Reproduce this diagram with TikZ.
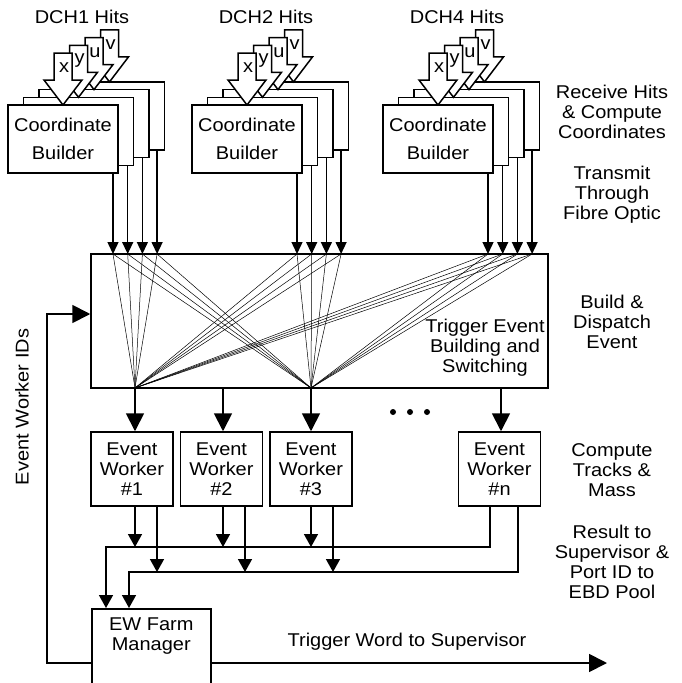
\documentclass[tikz,border=0pt]{standalone}
\usepackage{fontspec}
\setmainfont{Liberation Sans}[FakeStretch=1.08]
\usetikzlibrary{arrows.meta, positioning, calc}

\begin{document}
\begin{tikzpicture}[
  x=1pt, y=-1pt,
  font=\fontsize{18.5}{20}\selectfont,
  cbbox/.style={draw, fill=white, line width=1.5pt, minimum width=110pt, minimum height=68pt, inner sep=0pt},
  ewbox/.style={draw, line width=1.5pt, minimum width=82pt, minimum height=74pt, align=center, inner sep=0pt},
  hit/.style={draw, fill=white, line width=1.5pt, line join=miter},
  note/.style={align=center},
  feed/.style={line width=1.4pt, -{Triangle[width=11pt,length=12pt]}},
  fan/.style={line width=0.5pt},
  main/.style={line width=1.8pt, -{Triangle[width=18pt,length=18pt]}},
  bus/.style={line width=1.5pt, -{Triangle[width=14pt,length=13pt]}}
]
  \useasboundingbox (0,0) rectangle (681,683);

  \node[draw, line width=1.5pt, minimum width=457pt, minimum height=134pt] (sw) at (319.5,321) {};
  \node[note] (swtext) at (485,348) {Trigger Event\\Building and\\Switching};

  \foreach \g/\gx/\dch in {1/0/DCH1, 2/184/DCH2, 3/375/DCH4} {
    \node (hits\g) at (\gx+82,17) {\dch\ Hits};
    \foreach \k/\v in {3/v, 2/u, 1/y, 0/x} {
      \pgfmathsetmacro{\bx}{\gx+63+15.5*\k}
      \pgfmathsetmacro{\by}{105-7.7*\k}
      \node[cbbox] (cb\g\k) at (\bx,\by+34) {};
      \draw[hit] (\bx,\by) -- ++(-19,-25) -- ++(10,0) -- ++(0,-27) -- ++(18,0) -- ++(0,27) -- ++(10,0) -- cycle;
      \node (lab\g\k) at (\bx+1,\by-37) {\v};
    }
    \node[note] (cbtext\g) at (cb\g0) {Coordinate\\[8pt]Builder};
    \foreach \k in {0,...,3} {
      \pgfmathsetmacro{\ox}{\gx+113+14.7*\k}
      \coordinate (in\g\k) at (\ox,254);
      \draw[feed] (cb\g\k.south -| in\g\k) -- (in\g\k);
    }
  }

  \coordinate (f1) at (135,388);
  \coordinate (f2) at (223,388);
  \coordinate (f3) at (311,388);
  \coordinate (fn) at (501,388);
  \foreach \g in {1,2,3} {
    \foreach \k in {0,...,3} {
      \draw[fan] (in\g\k) -- (f1);
      \draw[fan] (in\g\k) -- (f3);
    }
  }

  \node[ewbox] (ew1) at (132,469) {Event\\Worker\\\#1};
  \node[ewbox, right=6pt of ew1] (ew2) {Event\\Worker\\\#2};
  \node[ewbox, right=6pt of ew2] (ew3) {Event\\Worker\\\#3};
  \node[ewbox] (ewn) at (499.5,469) {Event\\Worker\\\#n};
  \foreach \i/\dx in {1/393, 2/410, 3/427}
    \node[circle, fill, inner sep=0pt, minimum size=6pt] (dot\i) at (\dx,412) {};

  \draw[main] (f1) -- (f1 |- ew1.north);
  \draw[main] (f2) -- (f2 |- ew2.north);
  \draw[main] (f3) -- (f3 |- ew3.north);
  \draw[main] (fn) -- (fn |- ewn.north);

  \node[draw, line width=1.5pt, minimum width=119pt, minimum height=100pt, anchor=north west, inner sep=0pt] (fm) at (91,608) {};
  \node[note, below=6pt of fm.north] (fmtext) {EW Farm\\Manager};

  \coordinate (b1w) at (106,547);
  \coordinate (b2w) at (129,572);
  \foreach \e/\xa/\xb in {ew1/135/157, ew2/223/245, ew3/311/333} {
    \coordinate (oa) at (\xa,547);
    \coordinate (ob) at (\xb,572);
    \draw[bus] (\e.south -| oa) -- (oa);
    \draw[bus] (\e.south -| ob) -- (ob);
  }
  \coordinate (ona) at (490,547);
  \coordinate (onb) at (518,572);
  \draw[bus] (ewn.south -| ona) |- (b1w) -- (b1w |- fm.north);
  \draw[bus] (ewn.south -| onb) |- (b2w) -- (b2w |- fm.north);

  \coordinate (trig) at (607,663);
  \draw[main] (fm.east |- trig) -- (trig);
  \node (trigtext) at (407,642) {Trigger Word to Supervisor};

  \coordinate (idc) at (47,314);
  \draw[main] (fm.west |- trig) -| (idc) -- (sw.west |- idc);
  \node[rotate=90] (ids) at (22,407) {Event Worker IDs};

  \node[note] (n1) at (612,112) {Receive Hits\\\& Compute\\Coordinates};
  \node[note] (n2) at (612,195) {Transmit\\Through\\Fibre Optic};
  \node[note] (n3) at (612,322) {Build \&\\Dispatch\\Event};
  \node[note] (n4) at (612,470) {Compute\\Tracks \&\\Mass};
  \node[note] (n5) at (612,562) {Result to\\Supervisor \&\\Port ID to\\EBD Pool};
\end{tikzpicture}
\end{document}
